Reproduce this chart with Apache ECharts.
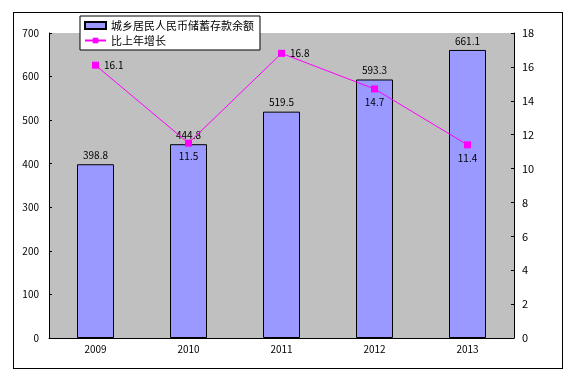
<!DOCTYPE html>
<html><head><meta charset="utf-8">
<script src="https://cdn.jsdelivr.net/npm/echarts@6/dist/echarts.min.js"></script>
<style>html,body{margin:0;padding:0;background:#fff}#c{width:574px;height:383px}
#frame{position:absolute;left:13px;top:12px;width:550px;height:357px;border:1px solid #000;box-sizing:border-box;pointer-events:none}</style>
</head><body><div id="c"></div><div id="frame"></div>
<script>
const categories = ['2009','2010','2011','2012','2013'];
const savings = [398.8, 444.8, 519.5, 593.3, 661.1];
const growth = [16.1, 11.5, 16.8, 14.7, 11.4];
const growthLabelPos = ['right','bottom','right','bottom','bottom'];
const leftTicks = [0,100,200,300,400,500,600,700];
const rightTicks = [0,2,4,6,8,10,12,14,16,18];

const chart = echarts.init(document.getElementById('c'));
const font = 'SimSun, "Noto Sans CJK SC", sans-serif';
chart.setOption({
  animation:false,
  textStyle:{fontFamily:font},
  grid:{left:49,right:60,top:33,bottom:45,show:true,backgroundColor:'#C0C0C0',borderWidth:0},
  legend:{
    orient:'vertical', left:80, top:16, itemGap:4, padding:[4,6,4,4],
    backgroundColor:'#fff', borderColor:'#000', borderWidth:1,
    itemWidth:21, itemHeight:7, itemTextGap:3,
    textStyle:{fontSize:11,color:'#000',fontFamily:font},
    data:[{name:'城乡居民人民币储蓄存款余额',icon:'rect'},{name:'比上年增长'}]
  },
  xAxis:{type:'category',data:categories,
    axisLine:{lineStyle:{color:'#000'}},
    axisTick:{inside:true,length:4,lineStyle:{color:'#000'}},
    axisLabel:{color:'#000',fontSize:10,margin:6}},
  yAxis:[
    {type:'value',min:leftTicks[0],max:leftTicks[leftTicks.length-1],interval:100,
     axisLine:{show:true,lineStyle:{color:'#000'}},
     axisTick:{show:true,inside:true,length:3,lineStyle:{color:'#000'}},
     splitLine:{show:false},
     axisLabel:{color:'#000',fontSize:10,margin:10}},
    {type:'value',min:rightTicks[0],max:rightTicks[rightTicks.length-1],interval:2,position:'right',
     axisLine:{show:true,lineStyle:{color:'#000'}},
     axisTick:{show:true,inside:true,length:3,lineStyle:{color:'#000'}},
     splitLine:{show:false},
     axisLabel:{color:'#000',fontSize:11,margin:8}}
  ],
  series:[
    {name:'城乡居民人民币储蓄存款余额',type:'bar',data:savings,barWidth:37,yAxisIndex:0,
     itemStyle:{color:'#9999FF',borderColor:'#000',borderWidth:1},
     label:{show:true,position:'top',color:'#000',fontSize:10,distance:4,formatter:p=>p.value.toFixed(1)}},
    {name:'比上年增长',type:'line',data:growth.map((v,i)=>({value:v,label:{position:growthLabelPos[i]}})),yAxisIndex:1,
     symbol:'rect',symbolSize:7,
     lineStyle:{color:'#FF00FF',width:1},itemStyle:{color:'#FF00FF'},
     label:{show:true,color:'#000',fontSize:10,distance:5,formatter:p=>p.value.toFixed(1)}}
  ]
});
</script></body></html>
